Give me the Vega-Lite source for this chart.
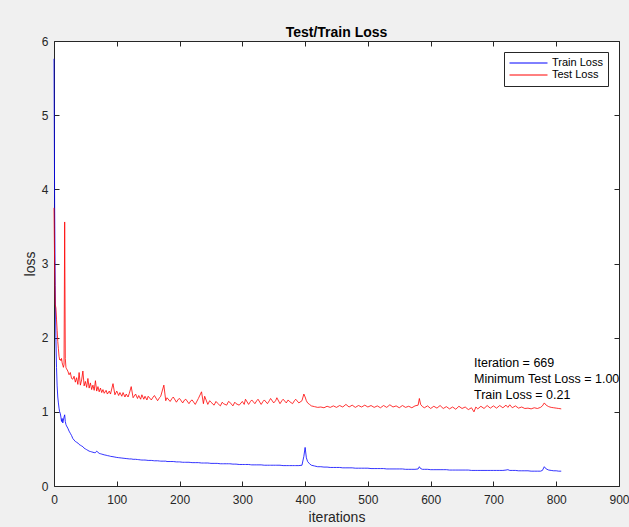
{
  "$schema": "https://vega.github.io/schema/vega-lite/v6.json",
  "width": 565,
  "height": 445,
  "autosize": {"type": "none"},
  "padding": {"left": 54, "top": 41, "right": 10, "bottom": 41},
  "background": "#f0f0f0",
  "config": {
    "view": {"fill": "white", "stroke": "#262626", "strokeWidth": 1},
    "font": "Liberation Sans",
    "legend": {
      "orient": "top-right",
      "offset": 11,
      "fillColor": "white",
      "strokeColor": "#262626",
      "padding": 5,
      "rowPadding": 0,
      "clipHeight": 12,
      "labelFontSize": 11,
      "labelColor": "#000000",
      "symbolType": "stroke",
      "symbolSize": 1444,
      "symbolStrokeWidth": 1,
      "labelOffset": 4,
      "title": null
    }
  },
  "title": {"text": "Test/Train Loss", "fontSize": 14, "fontWeight": "bold", "color": "#000000", "offset": -5, "font": "Liberation Sans"},
  "datasets": {
    "loss": [
      {"it": 0, "Train Loss": 5.76, "Test Loss": 3.75},
      {"it": 1, "Train Loss": 3.8, "Test Loss": 3.0},
      {"it": 2, "Train Loss": 2.7, "Test Loss": 2.45},
      {"it": 3, "Train Loss": 2.0, "Test Loss": 2.4},
      {"it": 4, "Train Loss": 1.6, "Test Loss": 2.25},
      {"it": 5, "Train Loss": 1.35, "Test Loss": 2.1},
      {"it": 6, "Train Loss": 1.2, "Test Loss": 1.95},
      {"it": 7, "Train Loss": 1.12, "Test Loss": 1.85},
      {"it": 8, "Train Loss": 1.05, "Test Loss": 1.75},
      {"it": 9, "Train Loss": 1.0, "Test Loss": 1.7},
      {"it": 10, "Train Loss": 0.98, "Test Loss": 1.71},
      {"it": 11, "Train Loss": 0.93, "Test Loss": 1.69},
      {"it": 12, "Train Loss": 0.87, "Test Loss": 1.72},
      {"it": 13, "Train Loss": 0.91, "Test Loss": 1.66},
      {"it": 14, "Train Loss": 0.85, "Test Loss": 1.63},
      {"it": 15, "Train Loss": 0.89, "Test Loss": 1.6},
      {"it": 16, "Train Loss": 0.93, "Test Loss": 1.64},
      {"it": 17, "Train Loss": 0.96, "Test Loss": 3.56},
      {"it": 18, "Train Loss": 0.87, "Test Loss": 1.72},
      {"it": 19, "Train Loss": 0.83, "Test Loss": 1.6},
      {"it": 20, "Train Loss": 0.81, "Test Loss": 1.58},
      {"it": 22, "Train Loss": 0.78, "Test Loss": 1.55},
      {"it": 24, "Train Loss": 0.74, "Test Loss": 1.5},
      {"it": 26, "Train Loss": 0.71, "Test Loss": 1.53},
      {"it": 28, "Train Loss": 0.68, "Test Loss": 1.45},
      {"it": 30, "Train Loss": 0.64, "Test Loss": 1.44},
      {"it": 32, "Train Loss": 0.62, "Test Loss": 1.48},
      {"it": 34, "Train Loss": 0.6, "Test Loss": 1.4},
      {"it": 36, "Train Loss": 0.59, "Test Loss": 1.46},
      {"it": 38, "Train Loss": 0.58, "Test Loss": 1.37},
      {"it": 40, "Train Loss": 0.56, "Test Loss": 1.53},
      {"it": 42, "Train Loss": 0.55, "Test Loss": 1.36},
      {"it": 44, "Train Loss": 0.54, "Test Loss": 1.43},
      {"it": 46, "Train Loss": 0.53, "Test Loss": 1.55},
      {"it": 48, "Train Loss": 0.51, "Test Loss": 1.35},
      {"it": 50, "Train Loss": 0.5, "Test Loss": 1.41},
      {"it": 52, "Train Loss": 0.49, "Test Loss": 1.33},
      {"it": 54, "Train Loss": 0.48, "Test Loss": 1.45},
      {"it": 56, "Train Loss": 0.47, "Test Loss": 1.32},
      {"it": 58, "Train Loss": 0.465, "Test Loss": 1.39},
      {"it": 60, "Train Loss": 0.46, "Test Loss": 1.3},
      {"it": 62, "Train Loss": 0.455, "Test Loss": 1.36},
      {"it": 64, "Train Loss": 0.45, "Test Loss": 1.29},
      {"it": 66, "Train Loss": 0.45, "Test Loss": 1.42},
      {"it": 68, "Train Loss": 0.47, "Test Loss": 1.28},
      {"it": 70, "Train Loss": 0.455, "Test Loss": 1.34},
      {"it": 72, "Train Loss": 0.44, "Test Loss": 1.27},
      {"it": 74, "Train Loss": 0.435, "Test Loss": 1.32},
      {"it": 76, "Train Loss": 0.43, "Test Loss": 1.26},
      {"it": 78, "Train Loss": 0.425, "Test Loss": 1.3},
      {"it": 80, "Train Loss": 0.42, "Test Loss": 1.25},
      {"it": 83, "Train Loss": 0.415, "Test Loss": 1.29},
      {"it": 85, "Train Loss": 0.41, "Test Loss": 1.24},
      {"it": 88, "Train Loss": 0.405, "Test Loss": 1.28},
      {"it": 90, "Train Loss": 0.4, "Test Loss": 1.24},
      {"it": 94, "Train Loss": 0.395, "Test Loss": 1.38},
      {"it": 97, "Train Loss": 0.39, "Test Loss": 1.23},
      {"it": 100, "Train Loss": 0.385, "Test Loss": 1.28},
      {"it": 103, "Train Loss": 0.382, "Test Loss": 1.22},
      {"it": 105, "Train Loss": 0.38, "Test Loss": 1.26},
      {"it": 108, "Train Loss": 0.377, "Test Loss": 1.21},
      {"it": 110, "Train Loss": 0.375, "Test Loss": 1.26},
      {"it": 113, "Train Loss": 0.372, "Test Loss": 1.2},
      {"it": 115, "Train Loss": 0.37, "Test Loss": 1.24},
      {"it": 118, "Train Loss": 0.367, "Test Loss": 1.2},
      {"it": 120, "Train Loss": 0.365, "Test Loss": 1.25},
      {"it": 123, "Train Loss": 0.365, "Test Loss": 1.34},
      {"it": 126, "Train Loss": 0.36, "Test Loss": 1.19},
      {"it": 130, "Train Loss": 0.36, "Test Loss": 1.24},
      {"it": 133, "Train Loss": 0.357, "Test Loss": 1.18},
      {"it": 135, "Train Loss": 0.355, "Test Loss": 1.22},
      {"it": 138, "Train Loss": 0.352, "Test Loss": 1.17},
      {"it": 140, "Train Loss": 0.35, "Test Loss": 1.23},
      {"it": 143, "Train Loss": 0.35, "Test Loss": 1.17},
      {"it": 145, "Train Loss": 0.35, "Test Loss": 1.21},
      {"it": 148, "Train Loss": 0.347, "Test Loss": 1.16},
      {"it": 150, "Train Loss": 0.345, "Test Loss": 1.21},
      {"it": 155, "Train Loss": 0.345, "Test Loss": 1.16},
      {"it": 158, "Train Loss": 0.342, "Test Loss": 1.2},
      {"it": 160, "Train Loss": 0.34, "Test Loss": 1.22},
      {"it": 165, "Train Loss": 0.34, "Test Loss": 1.15},
      {"it": 168, "Train Loss": 0.337, "Test Loss": 1.19},
      {"it": 170, "Train Loss": 0.335, "Test Loss": 1.21},
      {"it": 175, "Train Loss": 0.335, "Test Loss": 1.36},
      {"it": 178, "Train Loss": 0.335, "Test Loss": 1.15},
      {"it": 180, "Train Loss": 0.33, "Test Loss": 1.19},
      {"it": 185, "Train Loss": 0.33, "Test Loss": 1.14},
      {"it": 188, "Train Loss": 0.33, "Test Loss": 1.18},
      {"it": 190, "Train Loss": 0.33, "Test Loss": 1.2},
      {"it": 195, "Train Loss": 0.325, "Test Loss": 1.13},
      {"it": 198, "Train Loss": 0.325, "Test Loss": 1.17},
      {"it": 200, "Train Loss": 0.325, "Test Loss": 1.18},
      {"it": 205, "Train Loss": 0.32, "Test Loss": 1.12},
      {"it": 208, "Train Loss": 0.32, "Test Loss": 1.16},
      {"it": 210, "Train Loss": 0.32, "Test Loss": 1.17},
      {"it": 215, "Train Loss": 0.32, "Test Loss": 1.11},
      {"it": 218, "Train Loss": 0.317, "Test Loss": 1.15},
      {"it": 220, "Train Loss": 0.315, "Test Loss": 1.16},
      {"it": 225, "Train Loss": 0.315, "Test Loss": 1.1},
      {"it": 230, "Train Loss": 0.315, "Test Loss": 1.18},
      {"it": 235, "Train Loss": 0.31, "Test Loss": 1.27},
      {"it": 238, "Train Loss": 0.31, "Test Loss": 1.11},
      {"it": 240, "Train Loss": 0.31, "Test Loss": 1.21},
      {"it": 245, "Train Loss": 0.31, "Test Loss": 1.1},
      {"it": 248, "Train Loss": 0.307, "Test Loss": 1.15},
      {"it": 250, "Train Loss": 0.305, "Test Loss": 1.13},
      {"it": 255, "Train Loss": 0.305, "Test Loss": 1.09},
      {"it": 258, "Train Loss": 0.305, "Test Loss": 1.14},
      {"it": 260, "Train Loss": 0.305, "Test Loss": 1.12},
      {"it": 265, "Train Loss": 0.3, "Test Loss": 1.08},
      {"it": 268, "Train Loss": 0.3, "Test Loss": 1.13},
      {"it": 270, "Train Loss": 0.3, "Test Loss": 1.11},
      {"it": 275, "Train Loss": 0.3, "Test Loss": 1.09},
      {"it": 278, "Train Loss": 0.3, "Test Loss": 1.14},
      {"it": 280, "Train Loss": 0.3, "Test Loss": 1.13},
      {"it": 285, "Train Loss": 0.295, "Test Loss": 1.08},
      {"it": 288, "Train Loss": 0.295, "Test Loss": 1.13},
      {"it": 290, "Train Loss": 0.295, "Test Loss": 1.11},
      {"it": 295, "Train Loss": 0.29, "Test Loss": 1.09},
      {"it": 300, "Train Loss": 0.29, "Test Loss": 1.14},
      {"it": 303, "Train Loss": 0.29, "Test Loss": 1.1},
      {"it": 305, "Train Loss": 0.29, "Test Loss": 1.17},
      {"it": 310, "Train Loss": 0.29, "Test Loss": 1.1},
      {"it": 313, "Train Loss": 0.287, "Test Loss": 1.14},
      {"it": 315, "Train Loss": 0.285, "Test Loss": 1.16},
      {"it": 320, "Train Loss": 0.285, "Test Loss": 1.11},
      {"it": 323, "Train Loss": 0.285, "Test Loss": 1.15},
      {"it": 325, "Train Loss": 0.285, "Test Loss": 1.17},
      {"it": 330, "Train Loss": 0.285, "Test Loss": 1.1},
      {"it": 333, "Train Loss": 0.282, "Test Loss": 1.14},
      {"it": 335, "Train Loss": 0.28, "Test Loss": 1.16},
      {"it": 340, "Train Loss": 0.28, "Test Loss": 1.11},
      {"it": 343, "Train Loss": 0.28, "Test Loss": 1.15},
      {"it": 345, "Train Loss": 0.28, "Test Loss": 1.18},
      {"it": 350, "Train Loss": 0.28, "Test Loss": 1.12},
      {"it": 353, "Train Loss": 0.28, "Test Loss": 1.15},
      {"it": 355, "Train Loss": 0.28, "Test Loss": 1.19},
      {"it": 360, "Train Loss": 0.28, "Test Loss": 1.11},
      {"it": 363, "Train Loss": 0.277, "Test Loss": 1.15},
      {"it": 365, "Train Loss": 0.275, "Test Loss": 1.17},
      {"it": 370, "Train Loss": 0.275, "Test Loss": 1.12},
      {"it": 373, "Train Loss": 0.275, "Test Loss": 1.16},
      {"it": 375, "Train Loss": 0.275, "Test Loss": 1.14},
      {"it": 380, "Train Loss": 0.275, "Test Loss": 1.11},
      {"it": 383, "Train Loss": 0.275, "Test Loss": 1.15},
      {"it": 385, "Train Loss": 0.275, "Test Loss": 1.17},
      {"it": 390, "Train Loss": 0.275, "Test Loss": 1.12},
      {"it": 395, "Train Loss": 0.28, "Test Loss": 1.15},
      {"it": 398, "Train Loss": 0.4, "Test Loss": 1.24},
      {"it": 400, "Train Loss": 0.52, "Test Loss": 1.2},
      {"it": 402, "Train Loss": 0.38, "Test Loss": 1.15},
      {"it": 404, "Train Loss": 0.33, "Test Loss": 1.12},
      {"it": 407, "Train Loss": 0.3, "Test Loss": 1.1},
      {"it": 410, "Train Loss": 0.28, "Test Loss": 1.08},
      {"it": 415, "Train Loss": 0.27, "Test Loss": 1.07},
      {"it": 420, "Train Loss": 0.26, "Test Loss": 1.06},
      {"it": 425, "Train Loss": 0.26, "Test Loss": 1.065},
      {"it": 430, "Train Loss": 0.255, "Test Loss": 1.055},
      {"it": 435, "Train Loss": 0.255, "Test Loss": 1.075},
      {"it": 440, "Train Loss": 0.25, "Test Loss": 1.06},
      {"it": 445, "Train Loss": 0.25, "Test Loss": 1.08},
      {"it": 450, "Train Loss": 0.25, "Test Loss": 1.06},
      {"it": 455, "Train Loss": 0.25, "Test Loss": 1.085},
      {"it": 460, "Train Loss": 0.245, "Test Loss": 1.065},
      {"it": 465, "Train Loss": 0.245, "Test Loss": 1.1},
      {"it": 470, "Train Loss": 0.245, "Test Loss": 1.065},
      {"it": 475, "Train Loss": 0.245, "Test Loss": 1.09},
      {"it": 480, "Train Loss": 0.24, "Test Loss": 1.06},
      {"it": 485, "Train Loss": 0.24, "Test Loss": 1.085},
      {"it": 490, "Train Loss": 0.24, "Test Loss": 1.065},
      {"it": 495, "Train Loss": 0.24, "Test Loss": 1.09},
      {"it": 500, "Train Loss": 0.24, "Test Loss": 1.065},
      {"it": 505, "Train Loss": 0.235, "Test Loss": 1.085},
      {"it": 510, "Train Loss": 0.235, "Test Loss": 1.06},
      {"it": 515, "Train Loss": 0.235, "Test Loss": 1.08},
      {"it": 520, "Train Loss": 0.235, "Test Loss": 1.055},
      {"it": 525, "Train Loss": 0.235, "Test Loss": 1.085},
      {"it": 530, "Train Loss": 0.23, "Test Loss": 1.06},
      {"it": 535, "Train Loss": 0.23, "Test Loss": 1.095},
      {"it": 540, "Train Loss": 0.23, "Test Loss": 1.065},
      {"it": 545, "Train Loss": 0.23, "Test Loss": 1.08},
      {"it": 550, "Train Loss": 0.23, "Test Loss": 1.055},
      {"it": 555, "Train Loss": 0.23, "Test Loss": 1.085},
      {"it": 560, "Train Loss": 0.225, "Test Loss": 1.06},
      {"it": 565, "Train Loss": 0.225, "Test Loss": 1.075},
      {"it": 570, "Train Loss": 0.225, "Test Loss": 1.055},
      {"it": 575, "Train Loss": 0.225, "Test Loss": 1.08},
      {"it": 580, "Train Loss": 0.23, "Test Loss": 1.09},
      {"it": 582, "Train Loss": 0.26, "Test Loss": 1.18},
      {"it": 584, "Train Loss": 0.235, "Test Loss": 1.1},
      {"it": 587, "Train Loss": 0.225, "Test Loss": 1.07},
      {"it": 590, "Train Loss": 0.225, "Test Loss": 1.055},
      {"it": 595, "Train Loss": 0.225, "Test Loss": 1.08},
      {"it": 600, "Train Loss": 0.22, "Test Loss": 1.045},
      {"it": 605, "Train Loss": 0.22, "Test Loss": 1.075},
      {"it": 610, "Train Loss": 0.22, "Test Loss": 1.05},
      {"it": 615, "Train Loss": 0.22, "Test Loss": 1.085},
      {"it": 620, "Train Loss": 0.22, "Test Loss": 1.045},
      {"it": 625, "Train Loss": 0.22, "Test Loss": 1.07},
      {"it": 630, "Train Loss": 0.215, "Test Loss": 1.04},
      {"it": 635, "Train Loss": 0.215, "Test Loss": 1.065},
      {"it": 640, "Train Loss": 0.215, "Test Loss": 1.035},
      {"it": 645, "Train Loss": 0.215, "Test Loss": 1.075},
      {"it": 650, "Train Loss": 0.215, "Test Loss": 1.045},
      {"it": 655, "Train Loss": 0.215, "Test Loss": 1.065},
      {"it": 660, "Train Loss": 0.215, "Test Loss": 1.03},
      {"it": 665, "Train Loss": 0.21, "Test Loss": 1.055},
      {"it": 669, "Train Loss": 0.21, "Test Loss": 1.0},
      {"it": 672, "Train Loss": 0.21, "Test Loss": 1.065},
      {"it": 675, "Train Loss": 0.21, "Test Loss": 1.04},
      {"it": 680, "Train Loss": 0.21, "Test Loss": 1.075},
      {"it": 685, "Train Loss": 0.21, "Test Loss": 1.045},
      {"it": 690, "Train Loss": 0.21, "Test Loss": 1.085},
      {"it": 695, "Train Loss": 0.21, "Test Loss": 1.05},
      {"it": 700, "Train Loss": 0.21, "Test Loss": 1.08},
      {"it": 705, "Train Loss": 0.21, "Test Loss": 1.05},
      {"it": 710, "Train Loss": 0.21, "Test Loss": 1.085},
      {"it": 715, "Train Loss": 0.21, "Test Loss": 1.055},
      {"it": 720, "Train Loss": 0.215, "Test Loss": 1.09},
      {"it": 723, "Train Loss": 0.22, "Test Loss": 1.06},
      {"it": 726, "Train Loss": 0.21, "Test Loss": 1.095},
      {"it": 730, "Train Loss": 0.21, "Test Loss": 1.055},
      {"it": 735, "Train Loss": 0.21, "Test Loss": 1.08},
      {"it": 740, "Train Loss": 0.205, "Test Loss": 1.05},
      {"it": 745, "Train Loss": 0.205, "Test Loss": 1.065},
      {"it": 750, "Train Loss": 0.205, "Test Loss": 1.045},
      {"it": 755, "Train Loss": 0.205, "Test Loss": 1.05},
      {"it": 760, "Train Loss": 0.2, "Test Loss": 1.04},
      {"it": 765, "Train Loss": 0.2, "Test Loss": 1.055},
      {"it": 770, "Train Loss": 0.2, "Test Loss": 1.045},
      {"it": 775, "Train Loss": 0.2, "Test Loss": 1.06},
      {"it": 778, "Train Loss": 0.21, "Test Loss": 1.08},
      {"it": 781, "Train Loss": 0.26, "Test Loss": 1.12},
      {"it": 784, "Train Loss": 0.23, "Test Loss": 1.09},
      {"it": 788, "Train Loss": 0.215, "Test Loss": 1.07},
      {"it": 792, "Train Loss": 0.21, "Test Loss": 1.06},
      {"it": 796, "Train Loss": 0.205, "Test Loss": 1.055},
      {"it": 800, "Train Loss": 0.205, "Test Loss": 1.05},
      {"it": 804, "Train Loss": 0.2, "Test Loss": 1.045},
      {"it": 808, "Train Loss": 0.2, "Test Loss": 1.04}
    ],
    "note": [
      {"it": 669, "loss": 1.66, "label": "Iteration = 669\nMinimum Test Loss = 1.00\nTrain Loss = 0.21"}
    ]
  },
  "layer": [
    {
      "data": {"name": "loss"},
      "transform": [{"fold": ["Train Loss", "Test Loss"], "as": ["series", "loss"]}],
      "mark": {"type": "line", "strokeWidth": 0.8, "interpolate": "linear"},
      "encoding": {
        "x": {
          "field": "it", "type": "quantitative",
          "scale": {"domain": [0, 900], "nice": false, "zero": false},
          "axis": {
            "title": "iterations", "values": [0, 100, 200, 300, 400, 500, 600, 700, 800, 900],
            "grid": false, "domain": false, "tickSize": -5, "tickColor": "#262626",
            "labelFontSize": 12, "labelColor": "#262626", "labelPadding": 13, "labelFlush": false,
            "titleFontSize": 14, "titleFontWeight": "normal", "titleColor": "#262626", "titlePadding": 5
          }
        },
        "y": {
          "field": "loss", "type": "quantitative",
          "scale": {"domain": [0, 6], "nice": false},
          "axis": {
            "title": "loss", "values": [0, 1, 2, 3, 4, 5, 6],
            "grid": false, "domain": false, "tickSize": -5, "tickColor": "#262626",
            "labelFontSize": 12, "labelColor": "#262626", "labelPadding": 11, "labelFlush": false,
            "titleFontSize": 14, "titleFontWeight": "normal", "titleColor": "#262626", "titlePadding": 4
          }
        },
        "color": {
          "field": "series", "type": "nominal",
          "scale": {"domain": ["Train Loss", "Test Loss"], "range": ["#0000ff", "#ff0000"]},
          "legend": {"title": null}
        },
        "order": {"field": "it", "type": "quantitative"}
      }
    },
    {
      "data": {"name": "note"},
      "mark": {"type": "text", "align": "left", "baseline": "middle", "lineBreak": "\n", "lineHeight": 16, "fontSize": 12.5, "color": "#000000", "font": "Liberation Sans"},
      "encoding": {
        "x": {
          "field": "it", "type": "quantitative",
          "axis": {"orient": "top", "title": null, "labels": false, "grid": false, "domain": false, "tickSize": -5, "tickColor": "#262626", "values": [0, 100, 200, 300, 400, 500, 600, 700, 800, 900]}
        },
        "y": {
          "field": "loss", "type": "quantitative",
          "axis": {"orient": "right", "title": null, "labels": false, "grid": false, "domain": false, "tickSize": -5, "tickColor": "#262626", "values": [0, 1, 2, 3, 4, 5, 6]}
        },
        "text": {"field": "label", "type": "nominal"}
      }
    }
  ],
  "resolve": {"axis": {"x": "independent", "y": "independent"}}
}
